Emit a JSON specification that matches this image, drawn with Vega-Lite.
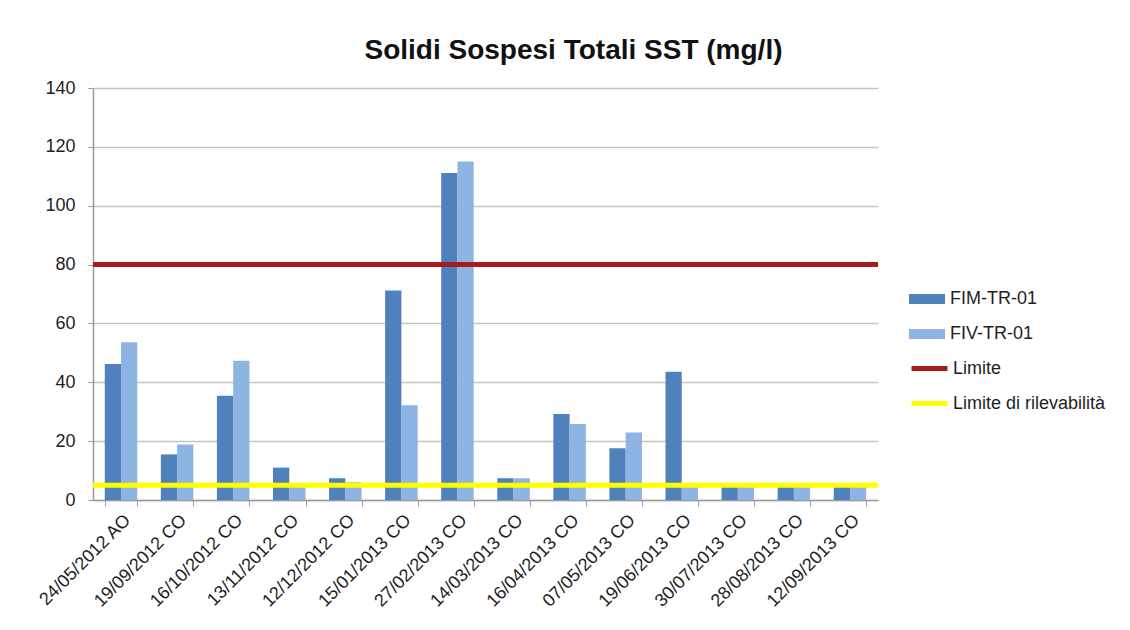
{
  "$schema": "https://vega.github.io/schema/vega-lite/v6.json",
  "autosize": {"type": "none"},
  "width": 785,
  "height": 412,
  "padding": {"left": 93, "top": 88, "right": 252, "bottom": 130},
  "background": "white",
  "config": {
    "font": "Liberation Sans",
    "view": {"stroke": null},
    "axis": {"labelFont": "Liberation Sans", "labelColor": "#1e1e1e", "labelFontSize": 18, "domainColor": "#9a9a9a", "tickColor": "#9a9a9a", "gridColor": "#c4c4c4", "gridWidth": 1.5}
  },
  "title": {
    "text": "Solidi Sospesi Totali SST (mg/l)",
    "font": "Liberation Sans",
    "fontSize": 28,
    "fontWeight": "bold",
    "color": "#111111",
    "anchor": "middle",
    "dx": 88,
    "offset": 14
  },
  "data": {
    "values": [
      {"data": "24/05/2012 AO", "stazione": "FIM-TR-01", "valore": 46.2},
      {"data": "24/05/2012 AO", "stazione": "FIV-TR-01", "valore": 53.6},
      {"data": "19/09/2012 CO", "stazione": "FIM-TR-01", "valore": 15.5},
      {"data": "19/09/2012 CO", "stazione": "FIV-TR-01", "valore": 18.9},
      {"data": "16/10/2012 CO", "stazione": "FIM-TR-01", "valore": 35.4},
      {"data": "16/10/2012 CO", "stazione": "FIV-TR-01", "valore": 47.3},
      {"data": "13/11/2012 CO", "stazione": "FIM-TR-01", "valore": 11.0},
      {"data": "13/11/2012 CO", "stazione": "FIV-TR-01", "valore": 5},
      {"data": "12/12/2012 CO", "stazione": "FIM-TR-01", "valore": 7.4},
      {"data": "12/12/2012 CO", "stazione": "FIV-TR-01", "valore": 6.0},
      {"data": "15/01/2013 CO", "stazione": "FIM-TR-01", "valore": 71.2},
      {"data": "15/01/2013 CO", "stazione": "FIV-TR-01", "valore": 32.2},
      {"data": "27/02/2013 CO", "stazione": "FIM-TR-01", "valore": 111.1},
      {"data": "27/02/2013 CO", "stazione": "FIV-TR-01", "valore": 115.0},
      {"data": "14/03/2013 CO", "stazione": "FIM-TR-01", "valore": 7.4},
      {"data": "14/03/2013 CO", "stazione": "FIV-TR-01", "valore": 7.4},
      {"data": "16/04/2013 CO", "stazione": "FIM-TR-01", "valore": 29.2},
      {"data": "16/04/2013 CO", "stazione": "FIV-TR-01", "valore": 25.8},
      {"data": "07/05/2013 CO", "stazione": "FIM-TR-01", "valore": 17.6},
      {"data": "07/05/2013 CO", "stazione": "FIV-TR-01", "valore": 22.9},
      {"data": "19/06/2013 CO", "stazione": "FIM-TR-01", "valore": 43.6},
      {"data": "19/06/2013 CO", "stazione": "FIV-TR-01", "valore": 5},
      {"data": "30/07/2013 CO", "stazione": "FIM-TR-01", "valore": 5},
      {"data": "30/07/2013 CO", "stazione": "FIV-TR-01", "valore": 5},
      {"data": "28/08/2013 CO", "stazione": "FIM-TR-01", "valore": 5},
      {"data": "28/08/2013 CO", "stazione": "FIV-TR-01", "valore": 5},
      {"data": "12/09/2013 CO", "stazione": "FIM-TR-01", "valore": 5},
      {"data": "12/09/2013 CO", "stazione": "FIV-TR-01", "valore": 5}
    ]
  },
  "layer": [
    {
      "mark": {"type": "bar"},
      "encoding": {
        "x": {
          "field": "data", "type": "nominal", "sort": null, "title": null,
          "scale": {"paddingInner": 0.42, "paddingOuter": 0.21},
          "axis": {"labelAngle": -45, "labelFontSize": 18, "tickBand": "extent", "tickSize": 6, "labelPadding": 5, "grid": false, "domainWidth": 1.5}
        },
        "xOffset": {"field": "stazione", "type": "nominal", "scale": {"paddingInner": 0, "paddingOuter": 0}},
        "y": {
          "field": "valore", "type": "quantitative", "title": null,
          "scale": {"domain": [0, 140], "nice": false},
          "axis": {"values": [0, 20, 40, 60, 80, 100, 120, 140], "tickSize": 5, "labelPadding": 13, "domainWidth": 1.5}
        },
        "color": {
          "field": "stazione", "type": "nominal",
          "scale": {"domain": ["FIM-TR-01", "FIV-TR-01"], "range": ["#4F81BD", "#8EB4E3"]},
          "legend": {
            "title": null, "orient": "none", "legendX": 816, "legendY": 193, "padding": 0,
            "symbolType": "M-1,-0.28H1V0.28H-1Z", "symbolSize": 1296, "symbolStrokeWidth": 0,
            "labelFontSize": 18, "labelColor": "#1e1e1e", "labelFont": "Liberation Sans", "labelOffset": 5, "rowPadding": 8
          }
        }
      }
    },
    {
      "data": {
        "values": [
          {"tipo": "Limite", "valore": 80},
          {"tipo": "Limite di rilevabilità", "valore": 5}
        ]
      },
      "mark": {"type": "rule", "strokeWidth": 5},
      "encoding": {
        "y": {"field": "valore", "type": "quantitative"},
        "stroke": {
          "field": "tipo", "type": "nominal",
          "scale": {"domain": ["Limite", "Limite di rilevabilità"], "range": ["#A51C1E", "#FFFF00"]},
          "legend": {
            "title": null, "orient": "none", "legendX": 816, "legendY": 260, "padding": 0,
            "symbolType": "stroke", "symbolSize": 1296, "symbolStrokeWidth": 5,
            "labelFontSize": 18, "labelColor": "#1e1e1e", "labelFont": "Liberation Sans", "labelOffset": 3, "rowPadding": 4
          }
        }
      }
    }
  ]
}
